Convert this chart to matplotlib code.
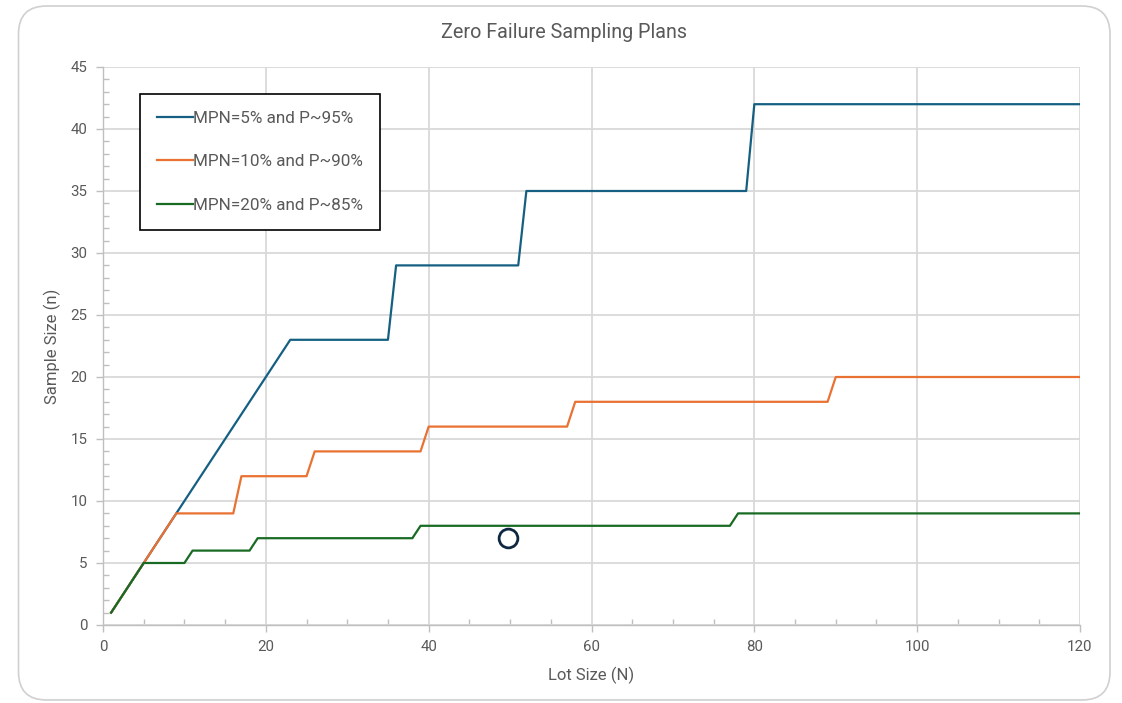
import matplotlib
matplotlib.use("Agg")
import matplotlib.pyplot as plt
from matplotlib.patches import FancyBboxPatch
from matplotlib.ticker import MultipleLocator

# ---- data (vertices of the step-like curves) ----
blue_N = [1, 23, 35, 36, 51, 52, 79, 80, 120]
blue_n = [1, 23, 23, 29, 29, 35, 35, 42, 42]

orange_N = [1, 9, 16, 17, 25, 26, 39, 40, 57, 58, 89, 90, 120]
orange_n = [1, 9, 9, 12, 12, 14, 14, 16, 16, 18, 18, 20, 20]

green_N = [1, 5, 10, 11, 18, 19, 38, 39, 77, 78, 120]
green_n = [1, 5, 5, 6, 6, 7, 7, 8, 8, 9, 9]

labels = ["MPN=5% and P~95%", "MPN=10% and P~90%", "MPN=20% and P~85%"]
marker_pt = (49.7, 7.0)

title = "Zero Failure Sampling Plans"
xlabel = "Lot Size (N)"
ylabel = "Sample Size (n)"

# ---- style ----
BLUE, ORANGE, GREEN, NAVY = "#156082", "#E97132", "#196B24", "#0E2841"
TXT = "#595959"
GRID = "#D9D9D9"
AX = "#BFBFBF"
plt.rcParams['font.family'] = ['Roboto', 'DejaVu Sans']

W, H = 1122, 703
fig = plt.figure(figsize=(W / 100, H / 100), dpi=100)
fig.patch.set_facecolor("white")

# rounded chart frame
frame = FancyBboxPatch((18.5 / W, 3 / H), (1110 - 18.5) / W, (697 - 3) / H,
                       boxstyle="round,pad=0,rounding_size=0.025",
                       transform=fig.transFigure, facecolor="none",
                       edgecolor="#D0D0D0", linewidth=1.2, zorder=-1,
                       mutation_aspect=W / H)
fig.patches.append(frame)

ax = fig.add_axes([103 / W, 1 - 625 / H, (1080 - 103) / W, (625 - 67) / H])
ax.set_facecolor("none")

ax.plot(blue_N, blue_n, color=BLUE, lw=1.6, label=labels[0], zorder=3)
ax.plot(orange_N, orange_n, color=ORANGE, lw=1.6, label=labels[1], zorder=3)
ax.plot(green_N, green_n, color=GREEN, lw=1.6, label=labels[2], zorder=3)
ax.plot([marker_pt[0]], [marker_pt[1]], 'o', ms=13.5, mfc="white",
        mec=NAVY, mew=2.0, zorder=4)

ax.set_xlim(0, 120)
ax.set_ylim(0, 45)
ax.xaxis.set_major_locator(MultipleLocator(20))
ax.xaxis.set_minor_locator(MultipleLocator(5))
ax.yaxis.set_major_locator(MultipleLocator(5))
ax.yaxis.set_minor_locator(MultipleLocator(1))
ax.grid(True, which="major", color=GRID, lw=1.3, zorder=0)
ax.set_axisbelow(True)

for s in ["top", "right"]:
    ax.spines[s].set_visible(False)
for s in ["left", "bottom"]:
    ax.spines[s].set_color(AX)
    ax.spines[s].set_linewidth(1.0)

ax.tick_params(which="major", direction="out", length=5, width=1.0,
               color=AX, labelcolor=TXT, labelsize=10.8, pad=6)
ax.tick_params(which="minor", direction="in", length=4, width=1.0, color=AX)

ax.set_xlabel(xlabel, color=TXT, fontsize=12, labelpad=9)
ax.set_ylabel(ylabel, color=TXT, fontsize=12, labelpad=7)
fig.text(564 / W, 1 - 32 / H, title, ha="center", va="center",
         fontsize=14.2, color=TXT)

leg = ax.legend(loc="upper left", bbox_to_anchor=(0.038, 0.952),
                frameon=True, fancybox=False, edgecolor="#000000",
                framealpha=1, fontsize=12.3, labelspacing=1.67,
                handlelength=2.1, handletextpad=0.0, borderpad=1.0,
                borderaxespad=0)
leg.get_frame().set_linewidth(1.2)
for t in leg.get_texts():
    t.set_color(TXT)

fig.savefig("out.png", dpi=100)
